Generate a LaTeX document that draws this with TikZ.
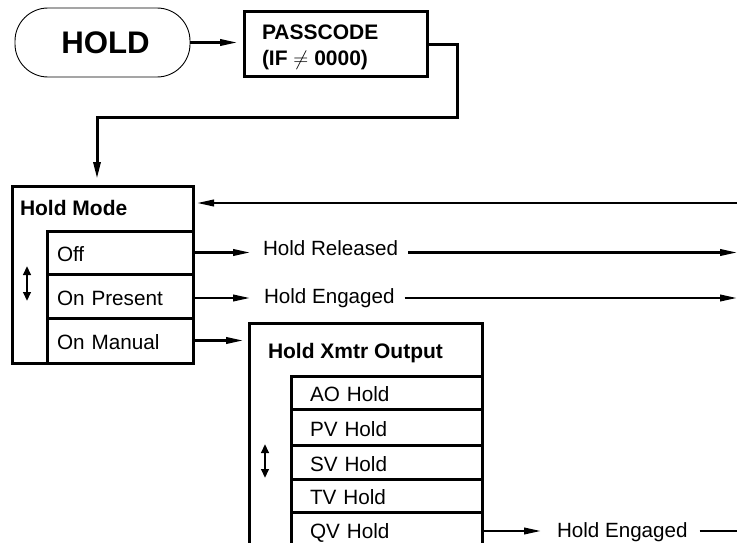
\documentclass[tikz,border=0pt]{standalone}
\usepackage{fontspec}
\setmainfont{Liberation Sans}
\usetikzlibrary{arrows.meta}
\begin{document}
\begin{tikzpicture}[x=1pt,y=-1pt,
  every node/.style={inner sep=0pt, outer sep=0pt},
  frame/.style={draw, line width=3pt},
  rowbox/.style={draw, line width=3pt, align=left, text height=18.5pt, text depth=0pt, font=\fontsize{20.7}{24}\selectfont},
  lbl/.style={anchor=base west, font=\fontsize{20.6}{24}\selectfont},
  head/.style={anchor=base west, font=\fontsize{21}{24}\selectfont\bfseries},
  conn/.style={line width=2.2pt, -{Triangle[length=17pt,width=6.5pt]}},
  plainline/.style={line width=2.2pt},
  updown/.style={line width=2.6pt, {Triangle[length=9pt,width=7.5pt]}-{Triangle[length=9pt,width=7.5pt]}}
]
\useasboundingbox (0,0) rectangle (737,543);
\clip (0,0) rectangle (737,543);

% top
\node[draw, line width=0.9pt, rounded corners=33pt, minimum width=175pt, minimum height=69pt,
      font=\fontsize{31.2}{34}\selectfont\bfseries] (hold) at (102.5,42.5) {\hspace*{6pt}HOLD};
\node[frame, minimum width=183pt, minimum height=65pt] (pass) at (335.5,44.5) {};
\node[head] (pass1) at (262,40) {PASSCODE};
\node[head] (pass2) at (262,66) {(IF $\neq$ 0000)};

% Hold Mode
\node[frame, minimum width=181pt, minimum height=177pt] (hm) at (102.5,274.5) {};
\node[head] (hmt) at (20,215) {Hold Mode};
\node[rowbox, minimum width=146pt, minimum height=43pt, text width=126pt, inner xsep=10pt] (off) at (120,252.5) {Off};
\node[rowbox, minimum width=146pt, minimum height=44pt, text width=126pt, inner xsep=10pt] (onp) at (120,296) {On Present};
\node[rowbox, minimum width=146pt, minimum height=45pt, text width=126pt, inner xsep=10pt] (onm) at (120,340.5) {On Manual};
\draw[updown] (27,266) -- (27,301);

% Hold Xmtr Output
\node[frame, minimum width=233pt, minimum height=237pt] (xm) at (365.5,441.5) {};
\node[head] (xmt) at (268,358) {Hold Xmtr Output};
\node[rowbox, minimum width=191pt, minimum height=33pt, text width=153pt, inner xsep=19pt] (ao) at (386.5,392.5) {AO Hold};
\node[rowbox, minimum width=191pt, minimum height=36pt, text width=153pt, inner xsep=19pt] (pv) at (386.5,427) {PV Hold};
\node[rowbox, minimum width=191pt, minimum height=34pt, text width=153pt, inner xsep=19pt] (sv) at (386.5,462) {SV Hold};
\node[rowbox, minimum width=191pt, minimum height=33pt, text width=153pt, inner xsep=19pt] (tv) at (386.5,495.5) {TV Hold};
\node[rowbox, minimum width=191pt, minimum height=34pt, text width=153pt, inner xsep=19pt] (qv) at (386.5,529) {QV Hold};
\draw[updown] (265,444) -- (265,478);

% labels
\node[lbl] (hrel) at (263,255) {Hold Released};
\node[lbl] (heng) at (264,303) {Hold Engaged};
\node[lbl] (heng2) at (557,537) {Hold Engaged};

% connectors
\draw[conn, shorten >=7pt] (hold.east) -- (hold.east -| pass.west);
\coordinate (c1) at (457,118);
\coordinate (c2) at (97,118);
\draw[line width=3pt, -{Triangle[length=17pt,width=7pt]}, shorten >=7pt]
  (pass.east) -| (c1) -- (c2) -- (c2 |- hm.north);

\coordinate (fb) at (737,203);
\draw[conn, shorten >=4pt] (fb) -- (fb -| hm.east);

\coordinate (r1) at (737,252.5);
\draw[conn, shorten >=13pt] (off.east) -- (off.east -| hrel.west);
\draw[conn, shorten <=10pt] (hrel.east |- r1) -- (r1);

\coordinate (r2) at (737,298);
\draw[conn, shorten >=14pt] (onp.east |- r2) -- (r2 -| heng.west);
\draw[conn, shorten <=10pt] (heng.east |- r2) -- (r2);

\draw[conn, shorten >=6pt] (onm.east) -- (onm.east -| xm.west);

\coordinate (r3) at (737,531);
\draw[conn, shorten >=16pt] (qv.east |- r3) -- (r3 -| heng2.west);
\draw[plainline, shorten <=12pt] (heng2.east |- r3) -- (r3);
\end{tikzpicture}
\end{document}
